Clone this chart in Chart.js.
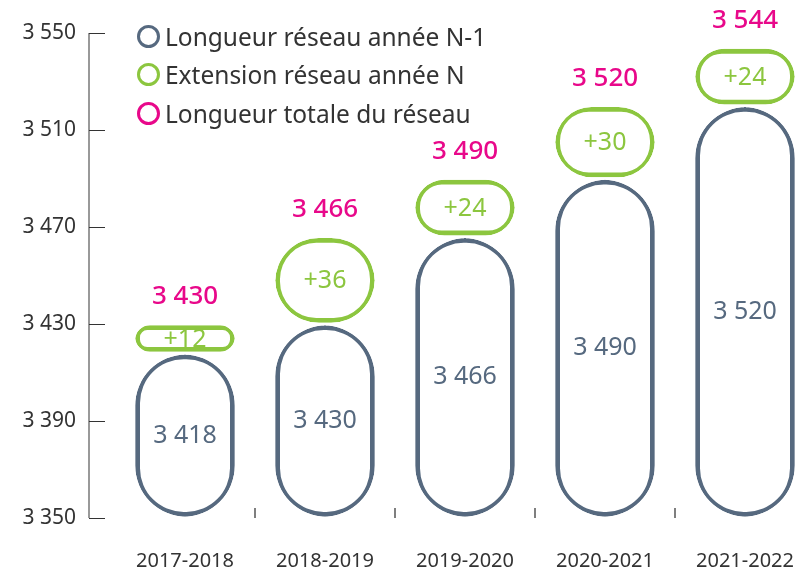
<!DOCTYPE html>
<html lang="fr">
<head>
<meta charset="utf-8">
<title>Longueur du réseau</title>
<script src="https://cdn.jsdelivr.net/npm/chart.js@4.4.1/dist/chart.umd.min.js"></script>
<style>
  html, body { margin: 0; padding: 0; background: #fff; overflow: hidden; }
  .wrap { position: relative; width: 830px; height: 572px; }
  .legend {
    position: absolute; left: 137px; top: 17px; margin: 0; padding: 0;
    list-style: none; font-family: "Noto Sans", sans-serif; font-size: 24.5px; color: #333;
  }
  .legend li { display: flex; align-items: center; height: 38.5px; }
  .legend .ring {
    box-sizing: border-box; width: 23px; height: 23px; border-radius: 50%;
    border: 3.5px solid; margin-right: 5px;
  }
</style>
</head>
<body>
<div class="wrap">
  <canvas id="reseauChart"></canvas>
  <ul class="legend" id="legend"></ul>
</div>
<script>
// --- Data ---
const categories = ['2017-2018', '2018-2019', '2019-2020', '2020-2021', '2021-2022'];
const previousLength = [3418, 3430, 3466, 3490, 3520];   // Longueur réseau année N-1
const extension = [12, 36, 24, 30, 24];                  // Extension réseau année N
const totalLength = [3430, 3466, 3490, 3520, 3544];      // Longueur totale du réseau
const yTicks = [3350, 3390, 3430, 3470, 3510, 3550];

const GRAY = '#56697f';
const GREEN = '#8cc63f';
const PINK = '#e8088a';
const FONT = '"Noto Sans", sans-serif';

const yMin = yTicks[0];
const yMax = yTicks[yTicks.length - 1];

// "3 550" style numbers
const fmt = v => String(v).replace(/\B(?=(\d{3})+(?!\d))/g, ' ');

// --- HTML legend ---
const legendItems = [
  ['Longueur réseau année N-1', GRAY],
  ['Extension réseau année N', GREEN],
  ['Longueur totale du réseau', PINK]
];
document.getElementById('legend').innerHTML = legendItems
  .map(([txt, col]) => `<li><span class="ring" style="border-color:${col}"></span>${txt}</li>`)
  .join('');

// Axis line + inner ticks, and small separators between categories
const axisDecor = {
  id: 'axisDecor',
  afterDraw(chart) {
    const { ctx, chartArea, scales: { x, y } } = chart;
    const axisX = chartArea.left - 26;
    ctx.save();
    ctx.strokeStyle = '#777';
    ctx.lineWidth = 1.5;
    ctx.beginPath();
    ctx.moveTo(axisX, y.getPixelForValue(yMax));
    ctx.lineTo(axisX, y.getPixelForValue(yMin));
    ctx.stroke();

    ctx.strokeStyle = '#333';
    ctx.lineWidth = 1;
    yTicks.forEach(v => {
      const py = Math.round(y.getPixelForValue(v)) + 0.5;
      ctx.beginPath();
      ctx.moveTo(axisX, py);
      ctx.lineTo(axisX + 16, py);
      ctx.stroke();
    });

    ctx.strokeStyle = '#555';
    ctx.lineWidth = 1.5;
    for (let i = 1; i < categories.length; i++) {
      const px = (x.getPixelForValue(i - 1) + x.getPixelForValue(i)) / 2;
      ctx.beginPath();
      ctx.moveTo(px, chartArea.bottom - 10);
      ctx.lineTo(px, chartArea.bottom);
      ctx.stroke();
    }
    ctx.restore();
  }
};

// Values inside the pills and totals on top
const pillLabels = {
  id: 'pillLabels',
  afterDatasetsDraw(chart) {
    const { ctx } = chart;
    const prevMeta = chart.getDatasetMeta(0);
    const extMeta = chart.getDatasetMeta(1);
    ctx.save();
    ctx.textAlign = 'center';
    ctx.textBaseline = 'middle';
    prevMeta.data.forEach((bar, i) => {
      ctx.font = `25px ${FONT}`;
      ctx.fillStyle = GRAY;
      ctx.fillText(fmt(previousLength[i]), bar.x, (bar.y + bar.base) / 2);

      const ext = extMeta.data[i];
      ctx.fillStyle = GREEN;
      ctx.fillText('+' + extension[i], ext.x, (ext.y + ext.base) / 2 + 1);

      ctx.font = `500 26px ${FONT}`;
      ctx.fillStyle = PINK;
      ctx.fillText(fmt(totalLength[i]), ext.x, Math.min(ext.y, ext.base) - 27);
    });
    ctx.restore();
  }
};

const pillStyle = {
  backgroundColor: '#fff',
  borderWidth: 7.4,
  inflateAmount: -1.3,
  borderRadius: 60,
  borderSkipped: false,
  barPercentage: 0.73,
  categoryPercentage: 1
};

new Chart(document.getElementById('reseauChart'), {
  type: 'bar',
  data: {
    labels: categories,
    datasets: [
      {
        label: 'Longueur réseau année N-1',
        data: previousLength.map(v => [yMin, v]),
        borderColor: GRAY,
        ...pillStyle
      },
      {
        label: 'Extension réseau année N',
        data: previousLength.map((v, i) => [v, totalLength[i]]),
        borderColor: GREEN,
        ...pillStyle
      }
    ]
  },
  options: {
    responsive: true,
    maintainAspectRatio: false,
    animation: false,
    layout: { padding: { top: 33, right: 15, left: 0, bottom: 0 } },
    plugins: {
      legend: { display: false },
      tooltip: { enabled: false }
    },
    scales: {
      x: {
        stacked: true,
        grid: { display: false },
        border: { display: false },
        afterFit: s => { s.height = 54; },
        ticks: {
          padding: 23,
          color: '#333',
          font: { family: FONT, size: 20 }
        }
      },
      y: {
        stacked: false,
        min: yMin,
        max: yMax,
        grid: { display: false, drawTicks: false },
        border: { display: false },
        afterFit: s => { s.width = 115; s.paddingTop = 0; s.paddingBottom = 0; },
        afterBuildTicks: s => { s.ticks = yTicks.map(v => ({ value: v })); },
        ticks: {
          padding: 39,
          color: '#333',
          font: { family: FONT, size: 21 },
          callback: v => fmt(v)
        }
      }
    }
  },
  plugins: [axisDecor, pillLabels]
});
</script>
</body>
</html>
